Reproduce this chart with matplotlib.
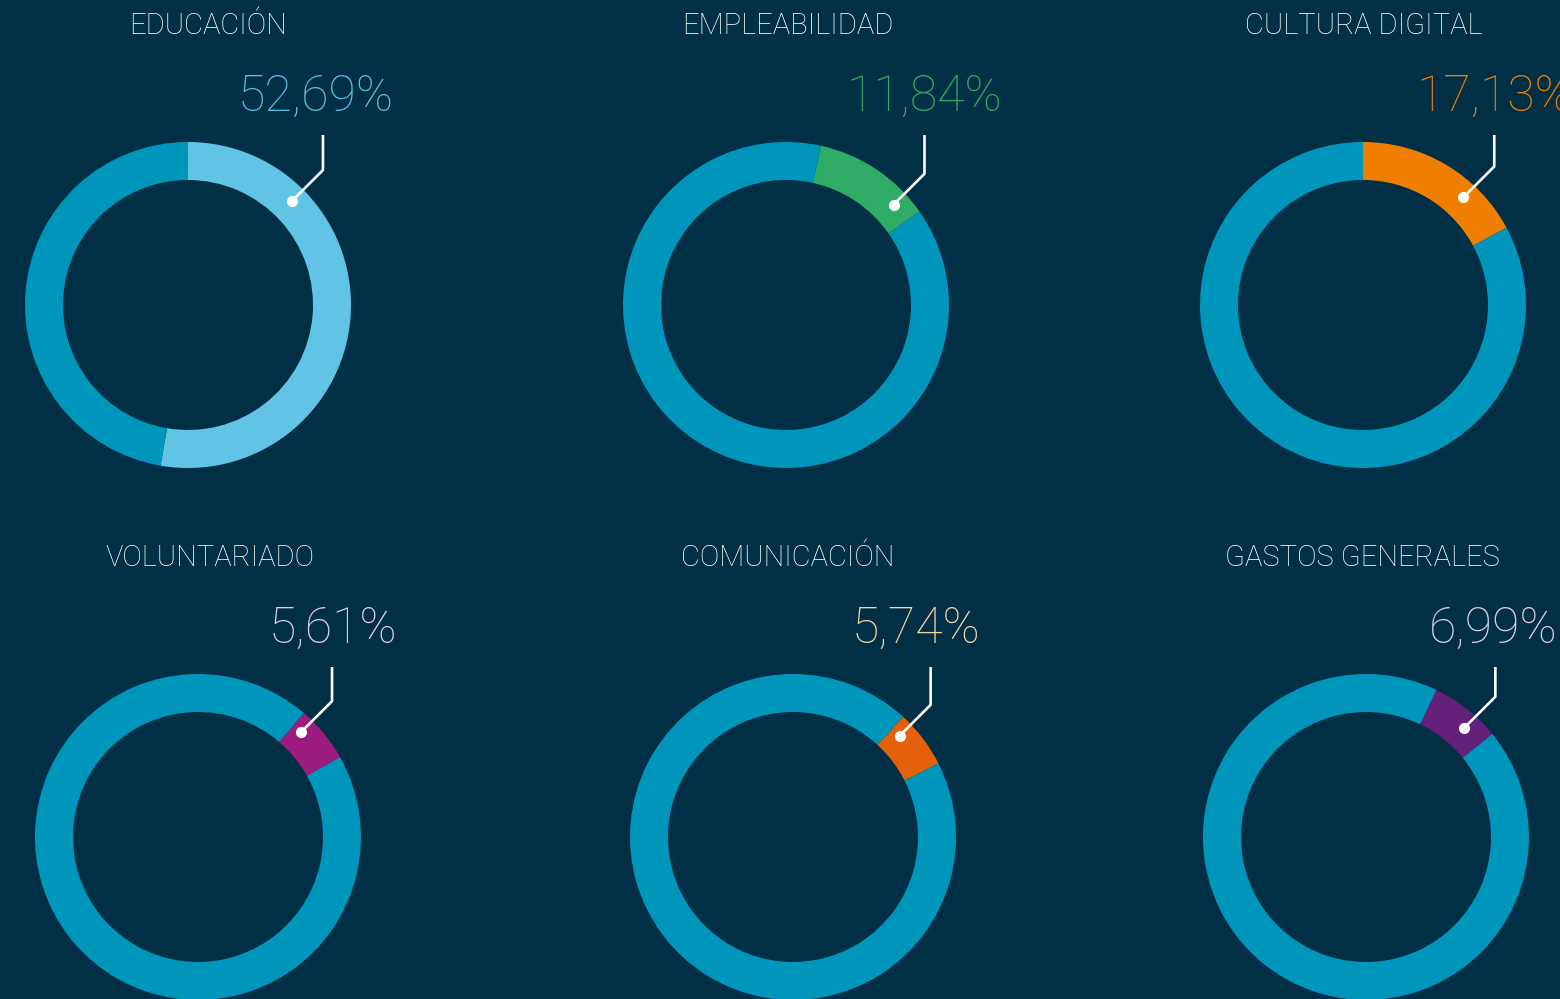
import numpy as np
import matplotlib
matplotlib.use("Agg")
import matplotlib.pyplot as plt

# datos
categorias = ["EDUCACIÓN", "EMPLEABILIDAD", "CULTURA DIGITAL",
              "VOLUNTARIADO", "COMUNICACIÓN", "GASTOS GENERALES"]
porcentajes = [52.69, 11.84, 17.13, 5.61, 5.74, 6.99]
# donde empieza el tramo destacado (grados, en sentido horario desde arriba)
inicio_tramo = [0, 12.4, 0, 40.5, 42.5, 25.6]

colores_tramo = ["#62c4e4", "#2fac66", "#f07f00", "#9c1c80", "#e5600a", "#63217a"]
colores_texto = ["#5bbfdf", "#2fac66", "#f07f00", "#dccde4", "#f3d6a8", "#dccde4"]
color_anillo = "#0096bb"
fondo = "#012f45"

# disposicion (pixeles)
centros = [(188, 305), (786, 305), (1363, 305),
           (198, 837), (793, 837), (1366, 837)]
ang_punto = [45, 47, 43, 44.5, 46.5, 42]
desp_titulo = [20, 2, 1, 12, -5, -4]
desp_etiqueta = [-7, 0, 0, 1, -15, -2]
R, ANCHO = 163, 38

fig = plt.figure(figsize=(15.6, 9.99), dpi=100, facecolor=fondo)
ax = fig.add_axes([0, 0, 1, 1])
ax.set_facecolor(fondo)

fuente = "Roboto"

for i, cat in enumerate(categorias):
    cx, cy = centros[i]
    # eje y invertido: antihorario en datos = horario en pantalla
    ax.pie([porcentajes[i], 100 - porcentajes[i]], center=(cx, cy), radius=R,
           startangle=-90 + inicio_tramo[i], counterclock=True,
           colors=[colores_tramo[i], color_anillo],
           wedgeprops=dict(width=ANCHO, linewidth=0))

    # linea guia
    a = np.deg2rad(ang_punto[i])
    rm = R - ANCHO / 2 + 3
    px, py = cx + rm * np.sin(a), cy - rm * np.cos(a)
    ex, ey = px + 31, py - 31
    ty = cy - 170
    ax.plot([px, ex, ex], [py, ey, ty], color="white", lw=1.9, solid_capstyle="butt")
    ax.plot(px, py, "o", color="white", ms=8, mec="none")

    etiqueta = f"{porcentajes[i]:.2f}".replace(".", ",") + "%"
    ax.text(ex + desp_etiqueta[i], cy - 208, etiqueta, color=colores_texto[i], fontsize=36,
            ha="center", va="center", family=fuente, fontweight="light")
    ax.text(cx + desp_titulo[i], cy - 279, cat, color="white", fontsize=21,
            ha="center", va="center", family=fuente, fontweight="light")

ax.set_xlim(0, 1560)
ax.set_ylim(999, 0)
ax.set_aspect("equal")
ax.axis("off")

plt.savefig("out.png", dpi=100, facecolor=fondo)
